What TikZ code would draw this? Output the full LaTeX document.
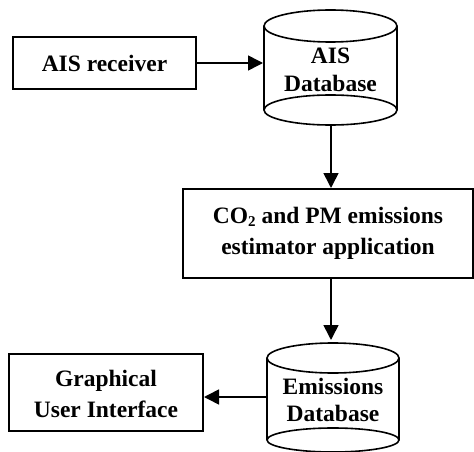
\documentclass[tikz,border=0pt]{standalone}
\usepackage{fontspec}
\setmainfont{Liberation Serif}
\usetikzlibrary{arrows.meta}
\begin{document}
\begin{tikzpicture}[x=1pt,y=1pt,
  line width=1.6pt,
  boxtext/.style={font=\bfseries\fontsize{23.5}{31}\selectfont, align=center, inner sep=0pt},
  cyltext/.style={font=\bfseries\fontsize{23.5}{27.5}\selectfont, align=center, inner sep=0pt},
  flow/.style={-{Triangle[length=15pt,width=15pt]}, line width=1.6pt}]
\useasboundingbox (0,0) rectangle (474,-452);
% AIS receiver box
\draw (13,-37) rectangle (196,-89);
\node[boxtext] (recv) at (104.5,-63) {AIS receiver};
\coordinate (recvE) at (196,-63);
% AIS Database cylinder
\draw (330.5,-26) ellipse [x radius=66.5, y radius=16];
\draw (330.5,-110) ellipse [x radius=66.5, y radius=15];
\draw (264,-26) -- (264,-110);
\draw (397,-26) -- (397,-110);
\node[cyltext] (aisdb) at (330.5,-70) {AIS\\Database};
\coordinate (aisL) at (263,-63);
\coordinate (aisB) at (331,-125);
% estimator box
\draw (183,-189) rectangle (473,-278);
\node[boxtext] (est) at (328,-233) {CO\raisebox{-0.3ex}{\fontsize{15}{15}\selectfont 2} and PM emissions\\estimator application};
\coordinate (estT) at (331,-188);
\coordinate (estB) at (331,-278);
% Emissions Database cylinder
\draw (333,-358) ellipse [x radius=66, y radius=15];
\draw (333,-440) ellipse [x radius=66, y radius=12];
\draw (267,-358) -- (267,-440);
\draw (399,-358) -- (399,-440);
\node[cyltext] (emdb) at (333,-400) {Emissions\\Database};
\coordinate (emT) at (331,-340);
\coordinate (emL) at (267,-397);
% GUI box
\draw (9,-354) rectangle (203,-431);
\node[boxtext] (gui) at (106,-394) {Graphical\\User Interface};
\coordinate (guiE) at (204,-397);
% connectors
\draw[flow] (recvE) -- (aisL);
\draw[flow] (aisB) -- (estT);
\draw[flow] (estB) -- (emT);
\draw[flow] (emL) -- (guiE);
\end{tikzpicture}
\end{document}
